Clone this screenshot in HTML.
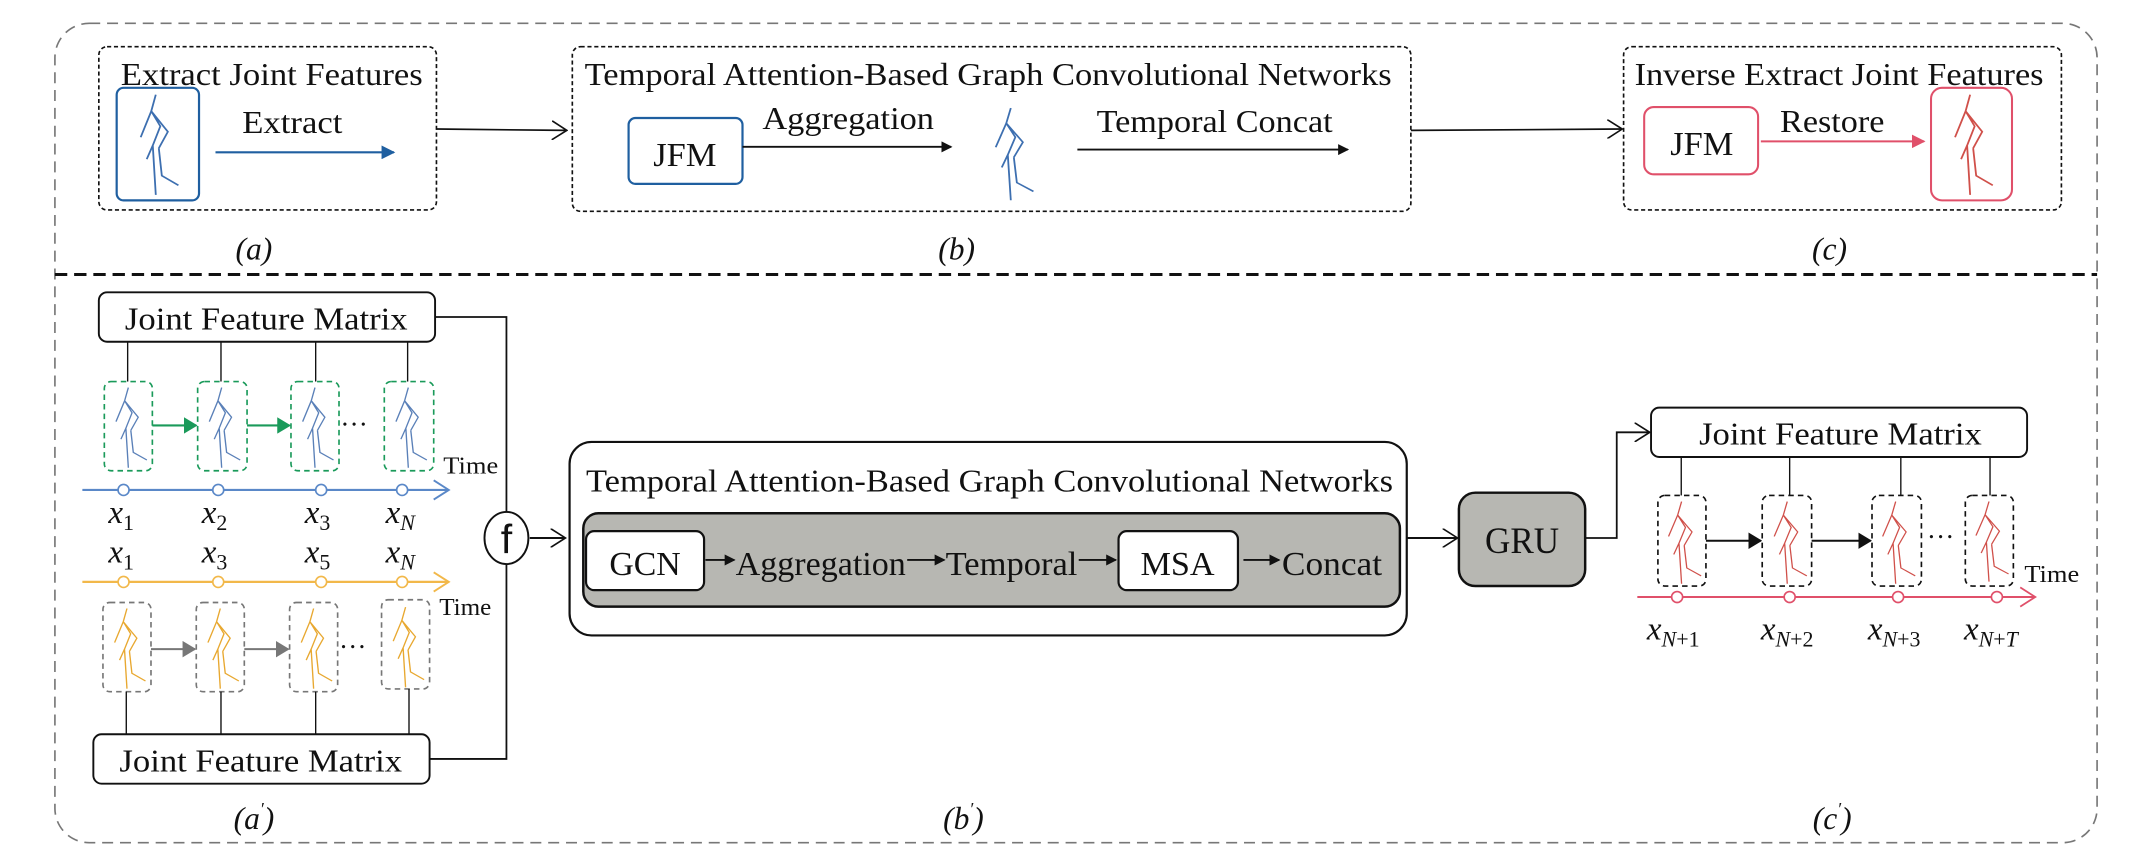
<!DOCTYPE html>
<html><head><meta charset="utf-8"><style>
html,body{margin:0;padding:0;background:#fff;}
svg{display:block;}
text{font-family:"Liberation Serif",serif;fill:#111;}
.m{font-style:italic;}
</style></head><body>
<svg width="2152" height="866" viewBox="0 0 1568 631" xmlns="http://www.w3.org/2000/svg">
<defs>
<path id="sk" d="M15,3 L12,15 L18,26 L13,40 L15,76 M12,15 L5,34 M12,15 L23,30 L17,42 M17,42 L19,62 L30,69 M13,40 L9,50" fill="none"/>
<marker id="ab" markerWidth="8" markerHeight="8" refX="7" refY="4" orient="auto" markerUnits="userSpaceOnUse"><path d="M0,0 L8,4 L0,8z" fill="#111"/></marker>
<marker id="abl" markerWidth="10" markerHeight="10" refX="9" refY="5" orient="auto" markerUnits="userSpaceOnUse"><path d="M0,0 L10,5 L0,10z" fill="#1f5fa0"/></marker>
<marker id="ar" markerWidth="10" markerHeight="10" refX="9" refY="5" orient="auto" markerUnits="userSpaceOnUse"><path d="M0,0 L10,5 L0,10z" fill="#e0506a"/></marker>
<marker id="ag" markerWidth="10" markerHeight="12" refX="9" refY="6" orient="auto" markerUnits="userSpaceOnUse"><path d="M0,0 L10,6 L0,12z" fill="#1a9a5a"/></marker>
<marker id="agy" markerWidth="10" markerHeight="12" refX="9" refY="6" orient="auto" markerUnits="userSpaceOnUse"><path d="M0,0 L10,6 L0,12z" fill="#777"/></marker>
<marker id="abk" markerWidth="10" markerHeight="12" refX="9" refY="6" orient="auto" markerUnits="userSpaceOnUse"><path d="M0,0 L10,6 L0,12z" fill="#111"/></marker>
<marker id="ao" markerWidth="12" markerHeight="14" refX="11" refY="7" orient="auto" markerUnits="userSpaceOnUse"><path d="M0,0 L11,7 L0,14" fill="none" stroke="#111" stroke-width="1.2"/></marker>
</defs>

<rect x="40" y="17" width="1488" height="597" rx="25" fill="none" stroke="#777" stroke-width="1.2" stroke-dasharray="8,5"/>
<line x1="40" y1="200" x2="1528" y2="200" stroke="#111" stroke-width="2.2" stroke-dasharray="9,5"/>

<!-- (a) -->
<rect x="72" y="34" width="246" height="119" rx="6" fill="none" stroke="#111" stroke-width="1.2" stroke-dasharray="3,2"/>
<text x="198" y="62" font-size="23" text-anchor="middle" textLength="220" lengthAdjust="spacingAndGlyphs">Extract Joint Features</text>
<rect x="85" y="64" width="60" height="82" rx="5" fill="none" stroke="#1f5fa0" stroke-width="1.6"/>
<use href="#sk" transform="translate(97,66) scale(1.1,1.0)" stroke="#3d6fb0" stroke-width="1.2"/>
<text x="213" y="97" font-size="23" text-anchor="middle" textLength="73" lengthAdjust="spacingAndGlyphs">Extract</text>
<line x1="157" y1="111" x2="287" y2="111" stroke="#1f5fa0" stroke-width="1.5" marker-end="url(#abl)"/>
<line x1="318" y1="94" x2="413" y2="95" stroke="#111" stroke-width="1.2" marker-end="url(#ao)"/>

<!-- (b) -->
<rect x="417" y="34" width="611" height="120" rx="6" fill="none" stroke="#111" stroke-width="1.2" stroke-dasharray="3,2"/>
<text x="720" y="62" font-size="23" text-anchor="middle" textLength="588" lengthAdjust="spacingAndGlyphs">Temporal Attention-Based Graph Convolutional Networks</text>
<rect x="458" y="86" width="83" height="48" rx="5" fill="none" stroke="#1f5fa0" stroke-width="1.6"/>
<text x="499" y="121" font-size="25" text-anchor="middle" textLength="46" lengthAdjust="spacingAndGlyphs">JFM</text>
<text x="618" y="94" font-size="23" text-anchor="middle" textLength="125" lengthAdjust="spacingAndGlyphs">Aggregation</text>
<line x1="541" y1="107" x2="693" y2="107" stroke="#111" stroke-width="1.4" marker-end="url(#ab)"/>
<use href="#sk" transform="translate(720,76) scale(1.1,0.92)" stroke="#3d6fb0" stroke-width="1.2"/>
<text x="885" y="96" font-size="23" text-anchor="middle" textLength="172" lengthAdjust="spacingAndGlyphs">Temporal Concat</text>
<line x1="785" y1="109" x2="982" y2="109" stroke="#111" stroke-width="1.4" marker-end="url(#ab)"/>
<line x1="1028" y1="95" x2="1182" y2="94" stroke="#111" stroke-width="1.2" marker-end="url(#ao)"/>

<!-- (c) -->
<rect x="1183" y="34" width="319" height="119" rx="6" fill="none" stroke="#111" stroke-width="1.2" stroke-dasharray="3,2"/>
<text x="1340" y="62" font-size="23" text-anchor="middle" textLength="298" lengthAdjust="spacingAndGlyphs">Inverse Extract Joint Features</text>
<rect x="1198" y="78" width="83" height="49" rx="7" fill="none" stroke="#e0506a" stroke-width="1.5"/>
<text x="1240" y="113" font-size="25" text-anchor="middle" textLength="46" lengthAdjust="spacingAndGlyphs">JFM</text>
<text x="1335" y="96" font-size="23" text-anchor="middle" textLength="76" lengthAdjust="spacingAndGlyphs">Restore</text>
<line x1="1283" y1="103" x2="1402" y2="103" stroke="#e0506a" stroke-width="1.5" marker-end="url(#ar)"/>
<rect x="1407" y="64" width="59" height="82" rx="8" fill="none" stroke="#e0506a" stroke-width="1.5"/>
<use href="#sk" transform="translate(1419,66) scale(1.1,1.0)" stroke="#d0504a" stroke-width="1.2"/>

<text class="m" x="185" y="189" font-size="23" text-anchor="middle">(a)</text>
<text class="m" x="697" y="189" font-size="23" text-anchor="middle">(b)</text>
<text class="m" x="1333" y="189" font-size="23" text-anchor="middle">(c)</text>

<!-- (a') -->
<rect x="72" y="213" width="245" height="36" rx="6" fill="#fff" stroke="#111" stroke-width="1.4"/>
<text x="194" y="240" font-size="23" text-anchor="middle" textLength="206" lengthAdjust="spacingAndGlyphs">Joint Feature Matrix</text>
<polyline points="317,231 369,231 369,373" fill="none" stroke="#111" stroke-width="1.3"/>
<g stroke="#111" stroke-width="1">
<line x1="93" y1="249" x2="93" y2="278"/><line x1="161" y1="249" x2="161" y2="278"/><line x1="230" y1="249" x2="230" y2="278"/><line x1="297" y1="249" x2="297" y2="278"/>
</g>
<g fill="none" stroke="#1a9a5a" stroke-width="1.2" stroke-dasharray="4,3">
<rect x="76" y="278" width="35" height="65" rx="5"/><rect x="144" y="278" width="36" height="65" rx="5"/><rect x="212" y="278" width="35" height="65" rx="5"/><rect x="280" y="278" width="36" height="65" rx="5"/>
</g>
<g stroke="#5a80b8" stroke-width="1.1">
<use href="#sk" transform="translate(80,280) scale(0.9,0.8)"/><use href="#sk" transform="translate(148,280) scale(0.9,0.8)"/><use href="#sk" transform="translate(216,280) scale(0.9,0.8)"/><use href="#sk" transform="translate(284,280) scale(0.9,0.8)"/>
</g>
<line x1="111" y1="310" x2="143" y2="310" stroke="#1a9a5a" stroke-width="1.5" marker-end="url(#ag)"/>
<line x1="180" y1="310" x2="211" y2="310" stroke="#1a9a5a" stroke-width="1.5" marker-end="url(#ag)"/>
<text x="258" y="310" font-size="20" text-anchor="middle">…</text>
<text x="323" y="345" font-size="18" textLength="40" lengthAdjust="spacingAndGlyphs">Time</text>
<line x1="60" y1="357" x2="326" y2="357" stroke="#5a88c8" stroke-width="1.6"/>
<polyline points="316,350 327,357 316,364" fill="none" stroke="#5a88c8" stroke-width="1.4"/>
<g fill="#fff" stroke="#5a88c8" stroke-width="1.2"><circle cx="90" cy="357" r="4"/><circle cx="159" cy="357" r="4"/><circle cx="234" cy="357" r="4"/><circle cx="293" cy="357" r="4"/></g>
<g font-size="24">
<text class="m" x="79" y="381">x<tspan font-size="16" dy="5" font-style="normal">1</tspan></text>
<text class="m" x="147" y="381">x<tspan font-size="16" dy="5" font-style="normal">2</tspan></text>
<text class="m" x="222" y="381">x<tspan font-size="16" dy="5" font-style="normal">3</tspan></text>
<text class="m" x="281" y="381">x<tspan font-size="16" dy="5">N</tspan></text>
<text class="m" x="79" y="410">x<tspan font-size="16" dy="5" font-style="normal">1</tspan></text>
<text class="m" x="147" y="410">x<tspan font-size="16" dy="5" font-style="normal">3</tspan></text>
<text class="m" x="222" y="410">x<tspan font-size="16" dy="5" font-style="normal">5</tspan></text>
<text class="m" x="281" y="410">x<tspan font-size="16" dy="5">N</tspan></text>
</g>
<line x1="60" y1="424" x2="326" y2="424" stroke="#f2b84a" stroke-width="1.6"/>
<polyline points="316,417 327,424 316,431" fill="none" stroke="#f2b84a" stroke-width="1.4"/>
<g fill="#fff" stroke="#f2b84a" stroke-width="1.2"><circle cx="90" cy="424" r="4"/><circle cx="159" cy="424" r="4"/><circle cx="234" cy="424" r="4"/><circle cx="293" cy="424" r="4"/></g>
<text x="320" y="448" font-size="18" textLength="38" lengthAdjust="spacingAndGlyphs">Time</text>
<g fill="none" stroke="#777" stroke-width="1.2" stroke-dasharray="4,3">
<rect x="75" y="439" width="35" height="65" rx="5"/><rect x="143" y="439" width="35" height="65" rx="5"/><rect x="211" y="439" width="35" height="65" rx="5"/><rect x="278" y="437" width="35" height="65" rx="5"/>
</g>
<g stroke="#e8a830" stroke-width="1.1">
<use href="#sk" transform="translate(79,441) scale(0.9,0.8)"/><use href="#sk" transform="translate(147,441) scale(0.9,0.8)"/><use href="#sk" transform="translate(215,441) scale(0.9,0.8)"/><use href="#sk" transform="translate(282,440) scale(0.9,0.8)"/>
</g>
<line x1="110" y1="473" x2="142" y2="473" stroke="#777" stroke-width="1.5" marker-end="url(#agy)"/>
<line x1="178" y1="473" x2="210" y2="473" stroke="#777" stroke-width="1.5" marker-end="url(#agy)"/>
<text x="257" y="472" font-size="20" text-anchor="middle">…</text>
<g stroke="#111" stroke-width="1">
<line x1="92" y1="504" x2="92" y2="535"/><line x1="161" y1="504" x2="161" y2="535"/><line x1="230" y1="504" x2="230" y2="535"/><line x1="298" y1="502" x2="298" y2="535"/>
</g>
<rect x="68" y="535" width="245" height="36" rx="6" fill="#fff" stroke="#111" stroke-width="1.4"/>
<text x="190" y="562" font-size="23" text-anchor="middle" textLength="206" lengthAdjust="spacingAndGlyphs">Joint Feature Matrix</text>
<polyline points="313,553 369,553 369,411" fill="none" stroke="#111" stroke-width="1.3"/>
<ellipse cx="369" cy="392" rx="16" ry="19" fill="#fff" stroke="#111" stroke-width="1.4"/>
<text x="369" y="403" font-size="30" text-anchor="middle" style="font-family:'Liberation Sans',sans-serif">f</text>
<line x1="386" y1="392" x2="412" y2="392" stroke="#111" stroke-width="1.4" marker-end="url(#ao)"/>
<text class="m" x="185" y="604" font-size="23" text-anchor="middle">(a<tspan font-size="13" dy="-10">′</tspan><tspan dy="10">)</tspan></text>

<!-- (b') -->
<rect x="415" y="322" width="610" height="141" rx="16" fill="#fff" stroke="#111" stroke-width="1.6"/>
<text x="721" y="358" font-size="23" text-anchor="middle" textLength="588" lengthAdjust="spacingAndGlyphs">Temporal Attention-Based Graph Convolutional Networks</text>
<rect x="425" y="374" width="595" height="68" rx="11" fill="#b7b7b2" stroke="#111" stroke-width="1.8"/>
<rect x="427" y="387" width="86" height="43" rx="6" fill="#fff" stroke="#111" stroke-width="1.6"/>
<text x="470" y="419" font-size="25" text-anchor="middle" textLength="52" lengthAdjust="spacingAndGlyphs">GCN</text>
<line x1="514" y1="408" x2="535" y2="408" stroke="#111" stroke-width="1.3" marker-end="url(#ab)"/>
<text x="536" y="419" font-size="25" textLength="124" lengthAdjust="spacingAndGlyphs">Aggregation</text>
<line x1="661" y1="408" x2="688" y2="408" stroke="#111" stroke-width="1.3" marker-end="url(#ab)"/>
<text x="689" y="419" font-size="25" textLength="96" lengthAdjust="spacingAndGlyphs">Temporal</text>
<line x1="786" y1="408" x2="813" y2="408" stroke="#111" stroke-width="1.3" marker-end="url(#ab)"/>
<rect x="815" y="387" width="87" height="43" rx="6" fill="#fff" stroke="#111" stroke-width="1.6"/>
<text x="858" y="419" font-size="25" text-anchor="middle" textLength="54" lengthAdjust="spacingAndGlyphs">MSA</text>
<line x1="906" y1="408" x2="932" y2="408" stroke="#111" stroke-width="1.3" marker-end="url(#ab)"/>
<text x="934" y="419" font-size="25" textLength="73" lengthAdjust="spacingAndGlyphs">Concat</text>
<text class="m" x="702" y="604" font-size="23" text-anchor="middle">(b<tspan font-size="13" dy="-10">′</tspan><tspan dy="10">)</tspan></text>

<!-- GRU -->
<line x1="1025" y1="392" x2="1062" y2="392" stroke="#111" stroke-width="1.4" marker-end="url(#ao)"/>
<rect x="1063" y="359" width="92" height="68" rx="12" fill="#b7b7b2" stroke="#111" stroke-width="1.8"/>
<text x="1109" y="403" font-size="27" text-anchor="middle" textLength="54" lengthAdjust="spacingAndGlyphs">GRU</text>
<polyline points="1155,392 1178,392 1178,315 1202,315" fill="none" stroke="#111" stroke-width="1.3" marker-end="url(#ao)"/>

<!-- (c') -->
<rect x="1203" y="297" width="274" height="36" rx="6" fill="#fff" stroke="#111" stroke-width="1.4"/>
<text x="1341" y="324" font-size="23" text-anchor="middle" textLength="206" lengthAdjust="spacingAndGlyphs">Joint Feature Matrix</text>
<g stroke="#111" stroke-width="1">
<line x1="1225" y1="333" x2="1225" y2="361"/><line x1="1304" y1="333" x2="1304" y2="361"/><line x1="1385" y1="333" x2="1385" y2="361"/><line x1="1450" y1="333" x2="1450" y2="361"/>
</g>
<g fill="none" stroke="#111" stroke-width="1.2" stroke-dasharray="4,3">
<rect x="1208" y="361" width="35" height="66" rx="5"/><rect x="1284" y="361" width="36" height="66" rx="5"/><rect x="1364" y="361" width="36" height="66" rx="5"/><rect x="1432" y="361" width="35" height="66" rx="5"/>
</g>
<g stroke="#d0504a" stroke-width="1">
<use href="#sk" transform="translate(1211,363) scale(0.95,0.82)"/><use href="#sk" transform="translate(1288,363) scale(0.95,0.82)"/><use href="#sk" transform="translate(1367,363) scale(0.95,0.82)"/><use href="#sk" transform="translate(1435,363) scale(0.95,0.8)"/>
</g>
<line x1="1243" y1="394" x2="1283" y2="394" stroke="#111" stroke-width="1.4" marker-end="url(#abk)"/>
<line x1="1320" y1="394" x2="1363" y2="394" stroke="#111" stroke-width="1.4" marker-end="url(#abk)"/>
<text x="1414" y="392" font-size="20" text-anchor="middle">…</text>
<text x="1475" y="424" font-size="18" textLength="40" lengthAdjust="spacingAndGlyphs">Time</text>
<line x1="1193" y1="435" x2="1482" y2="435" stroke="#e0506a" stroke-width="1.4"/>
<polyline points="1472,428 1483,435 1472,442" fill="none" stroke="#e0506a" stroke-width="1.3"/>
<g fill="#fff" stroke="#e0506a" stroke-width="1.2"><circle cx="1222" cy="435" r="4"/><circle cx="1304" cy="435" r="4"/><circle cx="1383" cy="435" r="4"/><circle cx="1455" cy="435" r="4"/></g>
<g font-size="24">
<text class="m" x="1200" y="466">x<tspan font-size="16" dy="5">N</tspan><tspan font-size="16" font-style="normal">+1</tspan></text>
<text class="m" x="1283" y="466">x<tspan font-size="16" dy="5">N</tspan><tspan font-size="16" font-style="normal">+2</tspan></text>
<text class="m" x="1361" y="466">x<tspan font-size="16" dy="5">N</tspan><tspan font-size="16" font-style="normal">+3</tspan></text>
<text class="m" x="1431" y="466">x<tspan font-size="16" dy="5">N</tspan><tspan font-size="16" font-style="normal">+</tspan><tspan font-size="16">T</tspan></text>
</g>
<text class="m" x="1335" y="604" font-size="23" text-anchor="middle">(c<tspan font-size="13" dy="-10">′</tspan><tspan dy="10">)</tspan></text>
</svg>
</body></html>
